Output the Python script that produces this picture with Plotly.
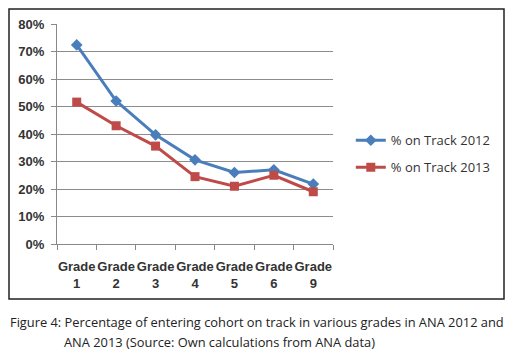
import plotly.graph_objects as go

categories = ["Grade<br>1", "Grade<br>2", "Grade<br>3", "Grade<br>4", "Grade<br>5", "Grade<br>6", "Grade<br>9"]
track_2012 = [0.724, 0.52, 0.397, 0.306, 0.26, 0.27, 0.218]
track_2013 = [0.516, 0.43, 0.356, 0.245, 0.21, 0.25, 0.19]
y_ticks = [0, 0.1, 0.2, 0.3, 0.4, 0.5, 0.6, 0.7, 0.8]

fig = go.Figure()
fig.add_trace(go.Scatter(x=categories, y=track_2012, mode="lines+markers",
                         name="% on Track 2012", legendgroup="a",
                         line=dict(color="#4A7EBB", width=3),
                         marker=dict(symbol="diamond", size=9, color="#4A7EBB")))
fig.add_trace(go.Scatter(x=categories, y=track_2013, mode="lines+markers",
                         name="% on Track 2013", legendgroup="b",
                         line=dict(color="#BE4B48", width=3),
                         marker=dict(symbol="square", size=9, color="#BE4B48")))

# page has an 8px body margin, so the figure is 8px smaller and shifted
L, T, W, H = 49, 16, 276, 220
tickfont = dict(family="Liberation Sans, Arial", size=13, color="#333", weight="bold")
fig.update_layout(
    width=505, height=351,
    margin=dict(l=L, r=505 - L - W, t=T, b=351 - T - H),
    paper_bgcolor="white", plot_bgcolor="white",
    showlegend=True,
    legend=dict(x=1.0645, y=0.41, xanchor="left", yanchor="middle",
                font=dict(family="Open Sans, Liberation Sans", size=13, color="#333"),
                tracegroupgap=7, itemwidth=30, bgcolor="rgba(0,0,0,0)"),
    xaxis=dict(type="category", tickson="boundaries", ticks="outside", ticklen=5,
               tickcolor="#888", showline=True, linecolor="#888", showgrid=False,
               tickfont=tickfont, ticklabelstandoff=10,
               tickangle=0, range=[-0.5, 6.5], automargin=False),
    yaxis=dict(range=[0, 0.8], tickvals=y_ticks, tickformat=".0%",
               showgrid=True, gridcolor="#8c8c8c", gridwidth=1,
               showline=True, linecolor="#888", ticks="outside", ticklen=5, tickcolor="#888",
               tickfont=tickfont, ticklabelstandoff=4,
               zeroline=False, automargin=False),
)

fig.add_shape(type="rect", xref="paper", yref="paper",
              x0=(1 - L) / W, x1=(496 - L) / W, y0=(T + H - 291) / H, y1=(T + H - 1) / H,
              line=dict(color="#222", width=1.5), layer="below")

capfont = dict(family="Open Sans, Lato", size=12.85, color="#222")
fig.add_annotation(text="Figure 4: Percentage of entering cohort on track in various grades in ANA 2012 and",
                   xref="paper", yref="paper", x=(0 - L) / W, y=(T + H - 314) / H,
                   xanchor="left", yanchor="middle", showarrow=False, font=capfont)
fig.add_annotation(text="ANA 2013 (Source: Own calculations from ANA data)",
                   xref="paper", yref="paper", x=(54 - L) / W, y=(T + H - 334) / H,
                   xanchor="left", yanchor="middle", showarrow=False, font=capfont)

fig.write_html("out.html")
